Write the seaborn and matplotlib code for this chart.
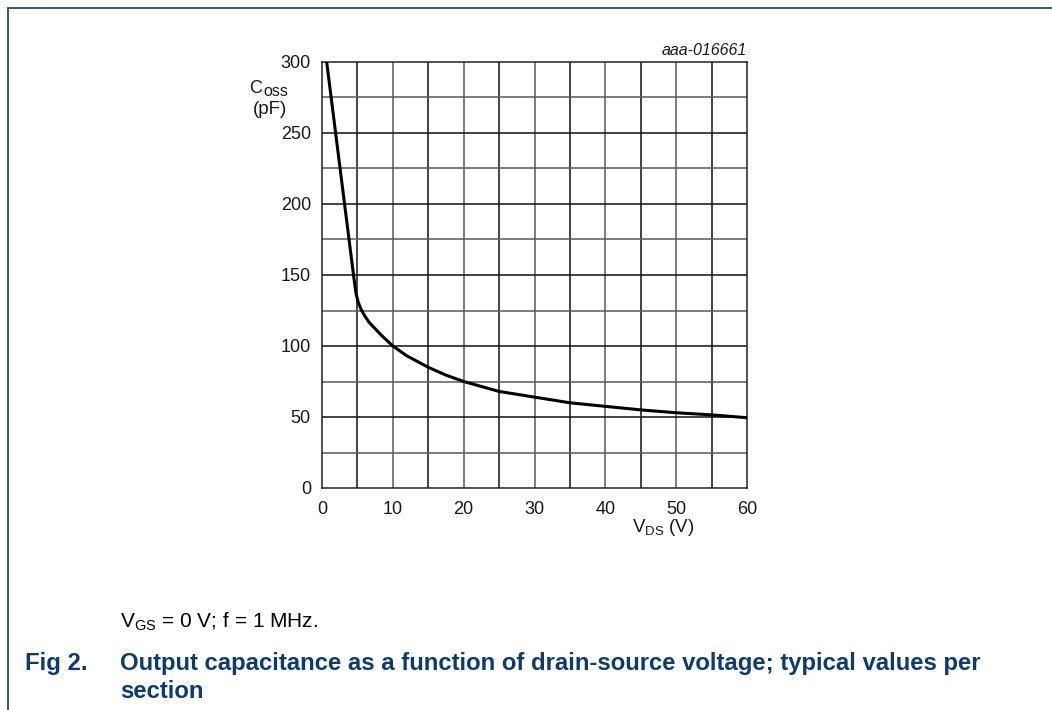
import matplotlib
matplotlib.use('Agg')
import matplotlib.pyplot as plt
from matplotlib.lines import Line2D
import numpy as np
import pandas as pd
import seaborn as sns

# Coss vs VDS
vds = [0.66, 4.5, 4.8, 5.1, 5.5, 6.0, 6.6, 7.25, 8.5, 10, 12, 15, 17.5, 20,
       22.5, 25, 30, 35, 40, 45, 50, 55, 60]
coss = [300, 148, 137, 131, 126, 121.5, 117, 113.5, 107, 100, 93, 85, 79.5,
        75, 71.5, 68, 64, 60, 57.5, 55, 53, 51.5, 49.5]

x_ticks = [0, 10, 20, 30, 40, 50, 60]
y_ticks = [0, 50, 100, 150, 200, 250, 300]

navy = '#0d3b6e'

sns.set_style('white')
plt.rcParams['font.family'] = ['Liberation Sans', 'DejaVu Sans']
plt.rcParams['mathtext.default'] = 'regular'

fig = plt.figure(figsize=(10.52, 7.10), dpi=100)
ax = fig.add_axes([322 / 1052, 1 - 488 / 710, 425 / 1052, 426 / 710])

# grid, alternating dark / grey lines
for i, v in enumerate(np.arange(5, 60, 5)):
    ax.axvline(v, color='#111111' if i % 2 == 0 else '#5a5a5a', lw=1.1, zorder=1)
for i, c in enumerate(np.arange(25, 300, 25)):
    ax.axhline(c, color='#5a5a5a' if i % 2 == 0 else '#111111', lw=1.1, zorder=1)

df = pd.DataFrame({'vds': vds, 'coss': coss})
sns.lineplot(data=df, x='vds', y='coss', color='black', lw=2.2, ax=ax,
             sort=True, zorder=3)

ax.set_xlim(0, 60)
ax.set_ylim(0, 300)
ax.set_xticks(x_ticks)
ax.set_yticks(y_ticks)
ax.tick_params(length=0, labelsize=13, colors='#1a1a1a')
ax.tick_params(axis='x', pad=9.5)
ax.tick_params(axis='y', pad=8)
ax.set_xlabel('')
ax.set_ylabel('')
for s in ax.spines.values():
    s.set_color('#222222')
    s.set_linewidth(1.1)

# axis labels placed like the datasheet
fig.text(262 / 1052, 1 - 93 / 710, 'C', ha='right', va='baseline',
         fontsize=13, color='#1a1a1a')
fig.text(288 / 1052, 1 - 96 / 710, 'oss', ha='right', va='baseline',
         fontsize=11.5, color='#1a1a1a')
fig.text(287 / 1052, 1 - 114 / 710, '(pF)', ha='right', va='baseline',
         fontsize=13.5, color='#1a1a1a')
fig.text(632 / 1052, 1 - 532 / 710, 'V$_{DS}$ (V)', ha='left', va='baseline',
         fontsize=13.5, color='#1a1a1a')
fig.text(747 / 1052, 1 - 55 / 710, 'aaa-016661', ha='right', va='baseline',
         fontsize=11.5, style='italic', color='#1a1a1a')

# captions
fig.text(120 / 1052, 1 - 628 / 710, 'V$_{GS}$ = 0 V; f = 1 MHz.', ha='left',
         va='baseline', fontsize=15, color='black')
fig.text(25 / 1052, 1 - 670 / 710, 'Fig 2.', ha='left', va='baseline',
         fontsize=17.2, weight='bold', color=navy)
fig.text(120 / 1052, 1 - 670 / 710,
         'Output capacitance as a function of drain-source voltage; typical values per',
         ha='left', va='baseline', fontsize=17.2, weight='bold', color=navy)
fig.text(120 / 1052, 1 - 698 / 710, 'section', ha='left', va='baseline',
         fontsize=17.2, weight='bold', color=navy)

# page frame
fig.add_artist(Line2D([8 / 1052, 1], [1 - 8 / 710, 1 - 8 / 710],
                      transform=fig.transFigure, color=navy, lw=1.2))
fig.add_artist(Line2D([8 / 1052, 8 / 1052], [0, 1 - 8 / 710],
                      transform=fig.transFigure, color=navy, lw=1.2))

fig.savefig('out.png', dpi=100)
plt.close(fig)
